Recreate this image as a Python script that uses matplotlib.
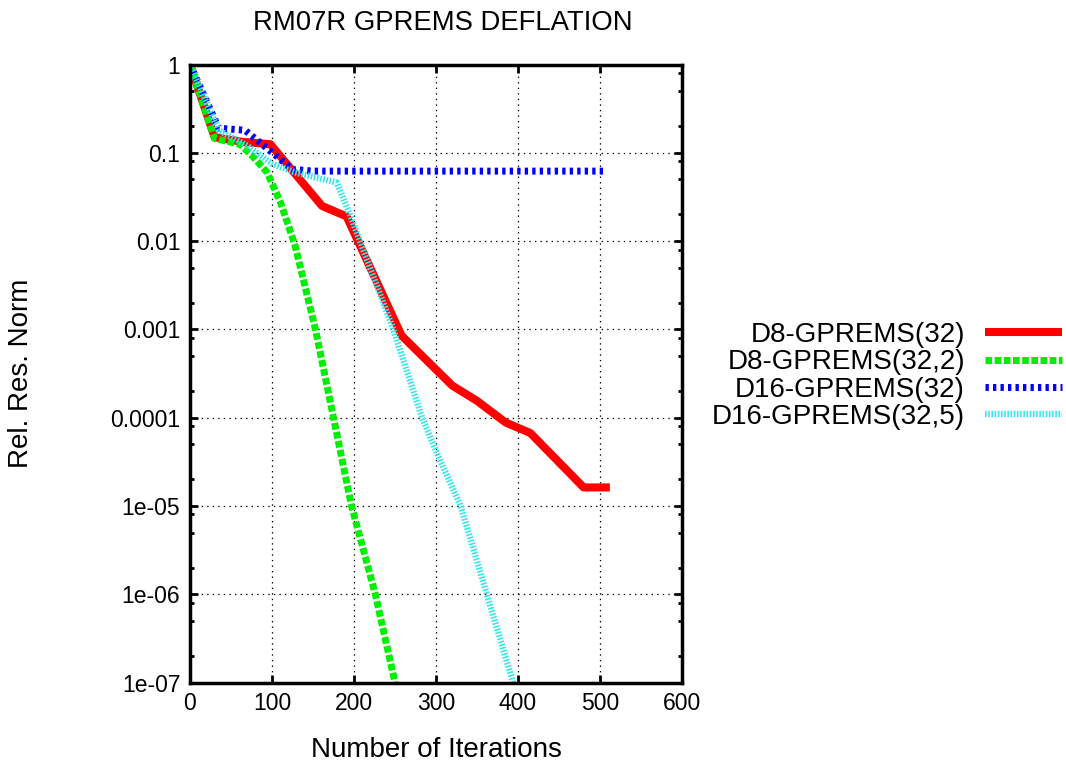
import matplotlib
matplotlib.use('Agg')
import matplotlib.pyplot as plt
from matplotlib.ticker import LogLocator, FixedLocator, FuncFormatter, NullFormatter

plt.rcParams.update({
    'font.family': ['Liberation Sans', 'DejaVu Sans'],
    'font.size': 17,
    'lines.scale_dashes': False,
})

RED = '#ff0000'
GREEN = '#00ee00'
BLUE = '#0000ff'
CYAN = '#33e6f2'

# --- data -----------------------------------------------------------------
red_x = [0, 30, 64, 98, 161, 191, 258, 320, 350, 385, 415, 480, 512]
red_y = [1, 0.15, 0.133, 0.125, 0.025, 0.019, 8.5e-4, 2.3e-4, 1.55e-4,
         8.8e-5, 6.7e-5, 1.62e-5, 1.62e-5]

green_x = [0, 30, 61, 77, 94, 110, 128, 153, 175, 197, 226, 250, 256]
green_y = [1, 0.145, 0.125, 0.09, 0.06, 0.028, 0.009, 1e-3, 1e-4, 1e-5,
           1e-6, 1e-7, 5.6e-8]

blue_x = [0, 35, 67, 125, 150, 504]
blue_y = [1, 0.19, 0.18, 0.065, 0.062, 0.062]

cyan_x = [0, 35, 70, 100, 128, 179, 195, 248, 283, 301, 330, 362, 394, 400]
cyan_y = [1, 0.18, 0.12, 0.075, 0.06, 0.046, 0.02, 1e-3, 1e-4, 4e-5, 1e-5,
          1e-6, 1e-7, 6.5e-8]

labels = ['D8-GPREMS(32)', 'D8-GPREMS(32,2)', 'D16-GPREMS(32)', 'D16-GPREMS(32,5)']
x_ticks = [0, 100, 200, 300, 400, 500, 600]
y_ticks = [1, 0.1, 0.01, 0.001, 0.0001, 1e-5, 1e-6, 1e-7]
y_ticklabels = ['1', '0.1', '0.01', '0.001', '0.0001', '1e-05', '1e-06', '1e-07']

# --- figure -----------------------------------------------------------------
fig = plt.figure(figsize=(10.66, 7.67), dpi=100)
ax = fig.add_axes([190 / 1066, 1 - 682.5 / 767, 492 / 1066, 618 / 767])

ax.plot(red_x, red_y, color=RED, lw=5.8, solid_capstyle='butt', label=labels[0])
ax.plot(green_x, green_y, color=GREEN, lw=5.0, dashes=(4.8, 1.8),
        dash_capstyle='butt', label=labels[1])
ax.plot(blue_x, blue_y, color=BLUE, lw=5.0, dashes=(2.4, 3.0),
        dash_capstyle='butt', label=labels[2])
ax.plot(cyan_x, cyan_y, color=CYAN, lw=4.6, dashes=(1.15, 1.15),
        dash_capstyle='butt', label=labels[3])

ax.set_yscale('log')
ax.set_xlim(0, 600)
ax.set_ylim(1e-7, 1)
ax.xaxis.set_major_locator(FixedLocator(x_ticks))
ax.yaxis.set_major_locator(FixedLocator(y_ticks))
ax.yaxis.set_major_formatter(FuncFormatter(
    lambda v, _: y_ticklabels[min(range(len(y_ticks)), key=lambda i: abs(y_ticks[i] - v) / y_ticks[i])]))
ax.yaxis.set_minor_locator(LogLocator(base=10, subs=(2, 5, 8), numticks=20))
ax.yaxis.set_minor_formatter(NullFormatter())

ax.tick_params(which='both', direction='in', top=True, right=True, width=2)
ax.tick_params(which='major', length=6, pad=7, labelsize=16.5)
ax.tick_params(which='minor', length=3)
for s in ax.spines.values():
    s.set_linewidth(2.5)

ax.grid(True, which='major', color='black', lw=0.9, linestyle=(0, (1, 3)))

ax.set_title('RM07R GPREMS DEFLATION', fontsize=19.8, pad=25, x=0.513)
ax.set_xlabel('Number of Iterations', fontsize=20)
ax.xaxis.set_label_coords(0.5, -0.088)
ax.set_ylabel('Rel. Res. Norm', fontsize=20)
ax.yaxis.set_label_coords(-0.318, 0.5)

ax.legend(loc='upper right', bbox_to_anchor=(1062 / 1066, 1 - 322 / 767),
          bbox_transform=fig.transFigure, frameon=False, markerfirst=False,
          fontsize=20, handlelength=2.77, handletextpad=0.72, labelspacing=0.05,
          borderpad=0, borderaxespad=0)

fig.savefig('out.png', dpi=100)
